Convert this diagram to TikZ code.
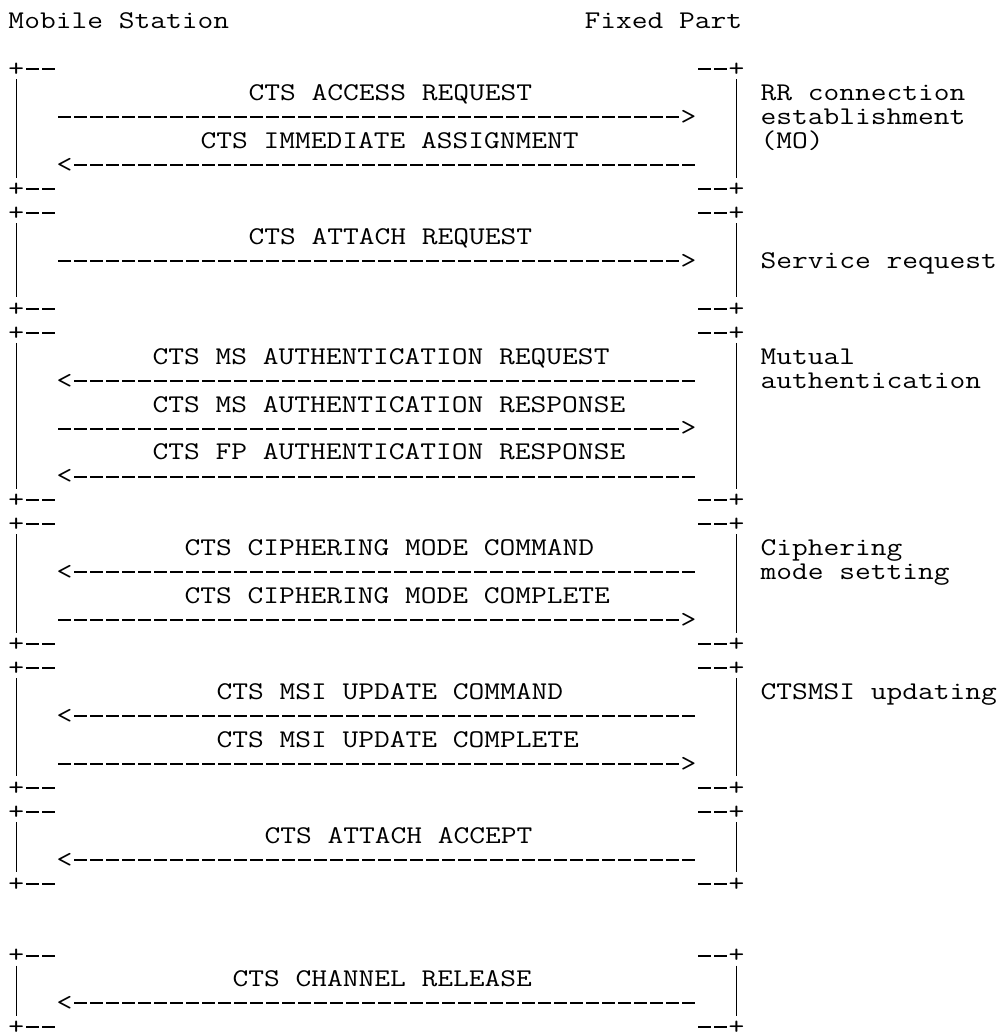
\documentclass[tikz,border=0pt]{standalone}
\usepackage{fontspec}
\setmonofont{Latin Modern Mono}[FakeStretch=1.2]
\begin{document}
\begin{tikzpicture}[x=1pt,y=-1pt,
  txt/.style={font=\ttfamily\fontsize{25.5}{24}\selectfont, inner sep=0pt, outer sep=0pt, anchor=base west, text=black},
  dashline/.style={line width=2pt, dash pattern=on 13pt off 3pt, line cap=butt, draw=black},
  bar/.style={line width=1.1pt, draw=black}]
\useasboundingbox (0,0) rectangle (1002,1032);
% text at column #2, row #3
\newcommand\gtext[4]{\node[txt] (#1) at ({8.5+16*#2},{28.8+23.95*#3}) {#4};}
% box: name, top row, bottom row
\newcommand\mybox[3]{%
  \node[txt] (#1tl) at (8.5,{28.8+23.95*#2}) {+};
  \node[txt] (#1tr) at ({8.5+16*45},{28.8+23.95*#2}) {+};
  \node[txt] (#1bl) at (8.5,{28.8+23.95*#3}) {+};
  \node[txt] (#1br) at ({8.5+16*45},{28.8+23.95*#3}) {+};
  \coordinate (#1la) at (16.5,{22+23.95*#2+9.5});
  \coordinate (#1lb) at (16.5,{22+23.95*#3-12});
  \coordinate (#1ra) at (736.5,{22+23.95*#2+9.5});
  \coordinate (#1rb) at (736.5,{22+23.95*#3-12});
  \draw[bar] (#1la) -- (#1lb);
  \draw[bar] (#1ra) -- (#1rb);
  \coordinate (#1ta) at (26,{round(21.5+23.95*#2)});
  \coordinate (#1tb) at (55,{round(21.5+23.95*#2)});
  \coordinate (#1tc) at (698,{round(21.5+23.95*#2)});
  \coordinate (#1td) at (727,{round(21.5+23.95*#2)});
  \coordinate (#1ba) at (26,{round(21.5+23.95*#3)});
  \coordinate (#1bb) at (55,{round(21.5+23.95*#3)});
  \coordinate (#1bc) at (698,{round(21.5+23.95*#3)});
  \coordinate (#1bd) at (727,{round(21.5+23.95*#3)});
  \draw[dashline] (#1ta) -- (#1tb);
  \draw[dashline] (#1tc) -- (#1td);
  \draw[dashline] (#1ba) -- (#1bb);
  \draw[dashline] (#1bc) -- (#1bd);
}
% message to the right: name, arrow row, label column, label
\newcommand\msgR[4]{%
  \node[txt] (#1) at ({8.5+16*#3},{28.8+23.95*(#2-1)}) {#4};
  \coordinate (#1s) at (58,{round(21.5+23.95*#2)});
  \coordinate (#1e) at (679,{round(21.5+23.95*#2)});
  \node[txt] (#1h) at (680.5,{28.8+23.95*#2}) {>};
  \draw[dashline] (#1s) -- (#1e);
}
% message to the left
\newcommand\msgL[4]{%
  \node[txt] (#1) at ({8.5+16*#3},{28.8+23.95*(#2-1)}) {#4};
  \node[txt] (#1h) at (56.5,{28.8+23.95*#2}) {<};
  \coordinate (#1s) at (74,{round(21.5+23.95*#2)});
  \coordinate (#1e) at (695,{round(21.5+23.95*#2)});
  \draw[dashline] (#1s) -- (#1e);
}
\gtext{ms}{0}{0}{Mobile Station}
\gtext{fp}{36}{0}{Fixed Part}
\mybox{bA}{2}{7}
\mybox{bB}{8}{12}
\mybox{bC}{13}{20}
\mybox{bD}{21}{26}
\mybox{bE}{27}{32}
\mybox{bF}{33}{36}
\mybox{bG}{39}{42}
\msgR{m1}{4}{15}{CTS ACCESS REQUEST}
\msgL{m2}{6}{12}{CTS IMMEDIATE ASSIGNMENT}
\msgR{m3}{10}{15}{CTS ATTACH REQUEST}
\msgL{m4}{15}{9}{CTS MS AUTHENTICATION REQUEST}
\msgR{m5}{17}{9}{CTS MS AUTHENTICATION RESPONSE}
\msgL{m6}{19}{9}{CTS FP AUTHENTICATION RESPONSE}
\msgL{m7}{23}{11}{CTS CIPHERING MODE COMMAND}
\msgR{m8}{25}{11}{CTS CIPHERING MODE COMPLETE}
\msgL{m9}{29}{13}{CTS MSI UPDATE COMMAND}
\msgR{m10}{31}{13}{CTS MSI UPDATE COMPLETE}
\msgL{m11}{35}{16}{CTS ATTACH ACCEPT}
\msgL{m12}{41}{14}{CTS CHANNEL RELEASE}
\gtext{r1}{47}{3}{RR connection}
\gtext{r2}{47}{4}{establishment}
\gtext{r3}{47}{5}{(MO)}
\gtext{r4}{47}{10}{Service request}
\gtext{r5}{47}{14}{Mutual}
\gtext{r6}{47}{15}{authentication}
\gtext{r7}{47}{22}{Ciphering}
\gtext{r8}{47}{23}{mode setting}
\gtext{r9}{47}{28}{CTSMSI updating}
\end{tikzpicture}
\end{document}
